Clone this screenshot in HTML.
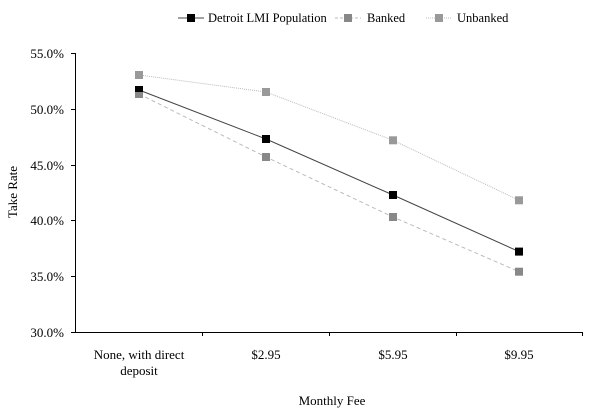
<!DOCTYPE html>
<html><head><style>
html,body{margin:0;padding:0;background:#fff;}
svg{display:block;font-family:"Liberation Serif",serif;}
</style></head><body>
<svg width="600" height="414" viewBox="0 0 600 414">
<g font-size="12.5" fill="#000">
<line x1="178" y1="18" x2="204" y2="18" stroke="#444" stroke-width="1"/><rect x="187" y="14" width="8" height="8" fill="#000"/>
<text x="208" y="22">Detroit LMI Population</text>
<line x1="335" y1="18" x2="361" y2="18" stroke="#bbb" stroke-dasharray="3,2"/><rect x="344" y="14" width="8" height="8" fill="#888"/>
<text x="367" y="22">Banked</text>
<line x1="426" y1="18" x2="452" y2="18" stroke="#bbb" stroke-dasharray="1,1"/><rect x="435" y="14" width="8" height="8" fill="#999"/>
<text x="457" y="22">Unbanked</text>
</g>
<g stroke="#000" stroke-width="1">
<line x1="75.5" y1="53" x2="75.5" y2="332"/>
<line x1="75" y1="332.5" x2="583" y2="332.5"/>
<line x1="71" y1="53.5" x2="75" y2="53.5"/><line x1="71" y1="109.5" x2="75" y2="109.5"/><line x1="71" y1="165.5" x2="75" y2="165.5"/><line x1="71" y1="220.5" x2="75" y2="220.5"/><line x1="71" y1="276.5" x2="75" y2="276.5"/><line x1="71" y1="332.5" x2="75" y2="332.5"/>
<line x1="202.5" y1="332" x2="202.5" y2="336"/><line x1="329.5" y1="332" x2="329.5" y2="336"/><line x1="456.5" y1="332" x2="456.5" y2="336"/><line x1="582.5" y1="332" x2="582.5" y2="336"/>
</g>
<g font-size="13" text-anchor="end" fill="#000">
<text x="64" y="58">55.0%</text><text x="64" y="114">50.0%</text><text x="64" y="170">45.0%</text><text x="64" y="225">40.0%</text><text x="64" y="281">35.0%</text><text x="64" y="337">30.0%</text>
</g>
<g font-size="13" text-anchor="middle" fill="#000">
<text x="139" y="359">None, with direct</text><text x="139" y="375">deposit</text>
<text x="266" y="359">$2.95</text><text x="393" y="359">$5.95</text><text x="519" y="359">$9.95</text>
<text x="332" y="405">Monthly Fee</text>
<text transform="translate(17,192) rotate(-90)">Take Rate</text>
</g>
<polyline points="139,75 266,92 393,140.3 519,200.3" fill="none" stroke="#bbb" stroke-dasharray="1,1"/>
<polyline points="139,94 266,157 393,217 519,271.7" fill="none" stroke="#bbb" stroke-dasharray="4,3"/>
<polyline points="139,90 266,139 393,195 519,251.6" fill="none" stroke="#444"/>
<g fill="#999">
<rect x="135" y="71" width="8" height="8"/><rect x="262" y="88" width="8" height="8"/><rect x="389" y="136.3" width="8" height="8"/><rect x="515" y="196.3" width="8" height="8"/>
</g>
<g fill="#888">
<rect x="135" y="90" width="8" height="8"/><rect x="262" y="153" width="8" height="8"/><rect x="389" y="213" width="8" height="8"/><rect x="515" y="267.7" width="8" height="8"/>
</g>
<g fill="#000">
<rect x="135" y="86" width="8" height="6"/><rect x="262" y="135" width="8" height="8"/><rect x="389" y="191" width="8" height="8"/><rect x="515" y="247.6" width="8" height="8"/>
</g>
</svg>
</body></html>
